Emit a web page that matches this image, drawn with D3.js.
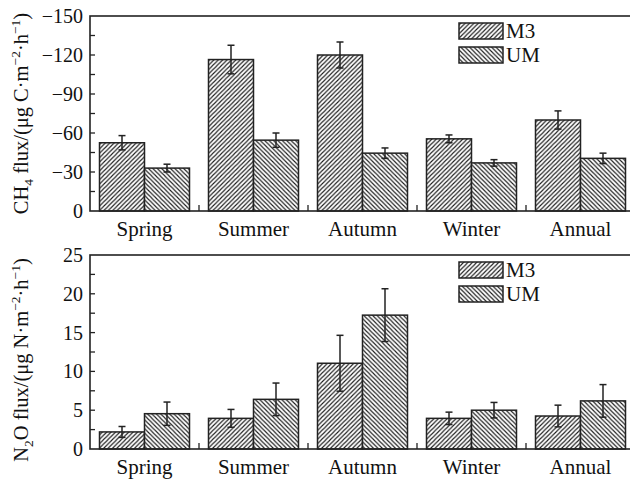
<!DOCTYPE html>
<html><head><meta charset="utf-8">
<script src="https://cdn.jsdelivr.net/npm/d3@7"></script>
<style>body{margin:0;background:#fff}svg{display:block}svg text{font-family:'Liberation Serif','DejaVu Serif',serif;fill:#111}</style>
</head><body><svg id="c" width="630" height="479" font-family="Liberation Serif, DejaVu Serif, serif"></svg>
<script>
const categories = ["Spring","Summer","Autumn","Winter","Annual"];
const seriesNames = ["M3","UM"];
const ch4M3 = [-52.5,-116.5,-120,-55.5,-70];
const ch4M3Err = [5.5,11,10,3,7];
const ch4UM = [-33,-54.5,-44.5,-37,-40.5];
const ch4UMErr = [3,5.5,4,2.5,4];
const n2oM3 = [2.2,3.95,11.05,3.95,4.25];
const n2oM3Err = [0.7,1.15,3.6,0.8,1.4];
const n2oUM = [4.55,6.4,17.25,5.0,6.2];
const n2oUMErr = [1.5,2.1,3.4,1.0,2.1];
const ch4Ticks = [0,-30,-60,-90,-120,-150];
const n2oTicks = [0,5,10,15,20,25];

const svg = d3.select("#c");
const defs = svg.append("defs");
function hatch(id, dir){
  const s = 4.4;
  const p = defs.append("pattern").attr("id",id).attr("patternUnits","userSpaceOnUse")
    .attr("width",s).attr("height",s);
  p.append("rect").attr("width",s).attr("height",s).attr("fill","#fff");
  const d = dir>0
    ? `M${-1},${1} L${1},${-1} M0,${s} L${s},0 M${s-1},${s+1} L${s+1},${s-1}`
    : `M${-1},${s-1} L${1},${s+1} M0,0 L${s},${s} M${s-1},${-1} L${s+1},${1}`;
  p.append("path").attr("d",d).attr("stroke","#1a1a1a").attr("stroke-width",1.1);
}
hatch("hM3",1); hatch("hUM",-1);
const fills = {M3:"url(#hM3)", UM:"url(#hUM)"};

const left = 90, right = 635;
const x0 = d3.scaleBand().domain(categories).range([left,right]).paddingInner(0).paddingOuter(0);
const x1 = d3.scaleBand().domain(seriesNames).range([9.5, x0.bandwidth()-9.5]);
const FONT = "'Liberation Serif','DejaVu Serif',serif";

function panel(cfg){
  const g = svg.append("g").attr("font-family",FONT);
  const y = d3.scaleLinear().domain(cfg.domain).range([cfg.bottom, cfg.top]);
  const data = categories.map((c,i)=>({c, vals: seriesNames.map((s,j)=>({s, v: cfg.vals[j][i], e: cfg.errs[j][i]}))}));
  const grp = g.selectAll("g.grp").data(data).join("g").attr("transform",d=>`translate(${x0(d.c)},0)`);
  grp.selectAll("rect").data(d=>d.vals).join("rect")
    .attr("x",d=>x1(d.s)).attr("width",x1.bandwidth())
    .attr("y",d=>Math.min(y(d.v),y(0))).attr("height",d=>Math.abs(y(0)-y(d.v)))
    .attr("fill",d=>fills[d.s]).attr("stroke","#222").attr("stroke-width",1.5);
  const eb = grp.selectAll("g.eb").data(d=>d.vals).join("g").attr("stroke","#222").attr("stroke-width",1.5);
  const sgn = cfg.domain[1] < 0 ? -1 : 1;
  const cx = d=>x1(d.s)+x1.bandwidth()/2;
  eb.append("line").attr("x1",cx).attr("x2",cx)
    .attr("y1",d=>y(d.v+sgn*d.e)).attr("y2",d=>y(d.v-sgn*d.e));
  eb.append("line").attr("x1",d=>cx(d)-3.5).attr("x2",d=>cx(d)+3.5)
    .attr("y1",d=>y(d.v+sgn*d.e)).attr("y2",d=>y(d.v+sgn*d.e));
  eb.append("line").attr("x1",d=>cx(d)-3.5).attr("x2",d=>cx(d)+3.5)
    .attr("y1",d=>y(d.v-sgn*d.e)).attr("y2",d=>y(d.v-sgn*d.e));

  g.append("rect").attr("x",left).attr("y",cfg.top).attr("width",right-left).attr("height",cfg.bottom-cfg.top)
    .attr("fill","none").attr("stroke","#222").attr("stroke-width",1.6);
  const step = cfg.ticks[1]-cfg.ticks[0];
  const allT = d3.range(0, cfg.ticks.length*2-1).map(k=>cfg.ticks[0]+k*step/2);
  g.selectAll("line.yt").data(allT.slice(1,-1)).join("line")
    .attr("x1",left).attr("x2",left+5).attr("y1",d=>y(d)).attr("y2",d=>y(d)).attr("stroke","#222").attr("stroke-width",1.3);
  g.selectAll("text.yl").data(cfg.ticks).join("text")
    .attr("x",left-7).attr("y",d=>y(d)).attr("dy","0.35em").attr("text-anchor","end")
    .attr("font-family",FONT).attr("font-size",20).text(d=>d<0?"\u2212"+Math.abs(d):d);
  g.selectAll("line.xt").data(categories.slice(1)).join("line")
    .attr("x1",d=>x0(d)).attr("x2",d=>x0(d)).attr("y1",cfg.bottom).attr("y2",cfg.bottom-6)
    .attr("stroke","#222").attr("stroke-width",1.3);
  g.selectAll("text.xl").data(categories).join("text")
    .attr("x",d=>x0(d)+x0.bandwidth()/2).attr("y",cfg.bottom+25).attr("text-anchor","middle")
    .attr("font-family",FONT).attr("font-size",21).text(d=>d);
  seriesNames.forEach((s,j)=>{
    const ly = cfg.top+7+j*24;
    g.append("rect").attr("x",459).attr("y",ly).attr("width",44).attr("height",16)
      .attr("fill",fills[s]).attr("stroke","#222").attr("stroke-width",1.5);
    g.append("text").attr("x",506).attr("y",ly+15).attr("font-family",FONT).attr("font-size",21).text(s);
  });
  const t = g.append("text").attr("transform",`translate(28,${(cfg.top+cfg.bottom)/2+cfg.titleShift}) rotate(-90)`)
    .attr("text-anchor","middle").attr("font-family",FONT).attr("font-size",20.5);
  cfg.title.forEach(p=>{
    const ts = t.append("tspan").text(p.t);
    if(p.sub){ ts.attr("font-size",13.5).attr("dy",5); }
    else if(p.sup){ ts.attr("font-size",13.5).attr("dy",-8); }
    if(p.back) ts.attr("dy",p.back);
  });
}

panel({domain:[0,-150], top:16, bottom:211, ticks:ch4Ticks, vals:[ch4M3,ch4UM], errs:[ch4M3Err,ch4UMErr], titleShift:0,
  title:[{t:"CH"},{t:"4",sub:true},{t:" flux/(\u03bcg C\u00b7m",back:-5},{t:"\u22122",sup:true},{t:"\u00b7h",back:8},{t:"\u22121",sup:true},{t:")",back:8}]});
panel({domain:[0,25], top:255, bottom:449, ticks:n2oTicks, vals:[n2oM3,n2oUM], errs:[n2oM3Err,n2oUMErr], titleShift:8,
  title:[{t:"N"},{t:"2",sub:true},{t:"O flux/(\u03bcg N\u00b7m",back:-5},{t:"\u22122",sup:true},{t:"\u00b7h",back:8},{t:"\u22121",sup:true},{t:")",back:8}]});
</script></body></html>
